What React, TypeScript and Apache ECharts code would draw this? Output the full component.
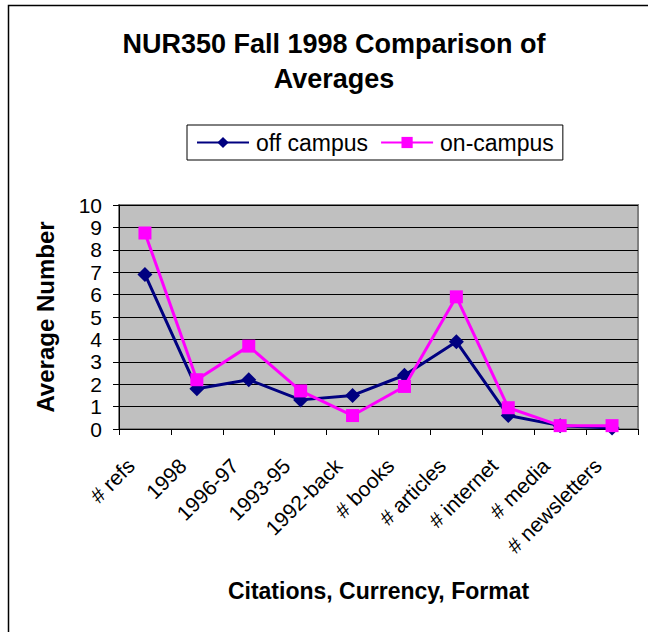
import React, { useEffect, useRef } from "react";
import * as echarts from "echarts";

const categories = [
  "# refs",
  "1998",
  "1996-97",
  "1993-95",
  "1992-back",
  "# books",
  "# articles",
  "# internet",
  "# media",
  "# newsletters",
];
const offCampus = [6.9, 1.8, 2.2, 1.3, 1.5, 2.4, 3.9, 0.6, 0.15, 0.05];
const onCampus = [8.75, 2.2, 3.7, 1.7, 0.6, 1.9, 5.9, 0.95, 0.15, 0.15];
const yTicks = { min: 0, max: 10, interval: 1 };

const FONT = "Liberation Sans, Arial, sans-serif";

export default function App() {
  const ref = useRef<HTMLDivElement>(null);
  useEffect(() => {
    document.body.style.margin = "0";
    const chart = echarts.init(ref.current!, null, { renderer: "svg" });
    chart.setOption({
      animation: false,
      backgroundColor: "#ffffff",
      textStyle: { fontFamily: FONT },
      graphic: [
        {
          type: "rect",
          shape: { x: 8.5, y: 5.5, width: 700, height: 700 },
          style: { fill: "none", stroke: "#000", lineWidth: 1.5 },
          silent: true,
          z: -10,
        },
        {
          type: "text",
          x: 334,
          y: 26,
          style: {
            text: "NUR350 Fall 1998 Comparison of\nAverages",
            align: "center",
            verticalAlign: "top",
            font: `bold 27px ${FONT}`,
            lineHeight: 35,
            fill: "#000",
          },
        },
      ],
      legend: {
        left: 187,
        top: 125,
        padding: [4, 9, 4, 9],
        itemGap: 12,
        itemWidth: 52,
        itemHeight: 14,
        borderColor: "#000",
        borderWidth: 1,
        textStyle: { fontSize: 23, lineHeight: 27, color: "#000", fontFamily: FONT, padding: [0, 0, 0, 2] },
        data: ["off campus", "on-campus"],
      },
      grid: {
        left: 119,
        right: 10,
        top: 205,
        bottom: 203,
        show: true,
        backgroundColor: "#c0c0c0",
        borderColor: "#808080",
        borderWidth: 2,
        containLabel: false,
      },
      xAxis: {
        type: "category",
        data: categories,
        boundaryGap: true,
        name: "Citations, Currency, Format",
        nameLocation: "middle",
        nameGap: 150,
        nameTextStyle: { fontSize: 23, fontWeight: "bold", color: "#000", fontFamily: FONT, verticalAlign: "top" },
        axisLine: { lineStyle: { color: "#000", width: 1 } },
        axisTick: { show: true, inside: false, length: 6, alignWithLabel: false, lineStyle: { color: "#000" } },
        axisLabel: {
          rotate: 45,
          fontSize: 21,
          color: "#000",
          margin: 19,
          padding: [0, 20, 0, 0],
          interval: 0,
          fontFamily: FONT,
        },
        splitLine: { show: false },
      },
      yAxis: {
        type: "value",
        min: yTicks.min,
        max: yTicks.max,
        interval: yTicks.interval,
        name: "Average Number",
        nameLocation: "middle",
        nameGap: 62,
        nameRotate: 90,
        nameTextStyle: { fontSize: 24, fontWeight: "bold", color: "#000", fontFamily: FONT },
        axisLine: { show: true, lineStyle: { color: "#000", width: 1 } },
        axisTick: { show: true, inside: false, length: 6, lineStyle: { color: "#000" } },
        axisLabel: { fontSize: 21, color: "#000", margin: 17, fontFamily: FONT },
        splitLine: { show: true, lineStyle: { color: "#000", width: 1 } },
      },
      series: [
        {
          name: "off campus",
          type: "line",
          data: offCampus,
          symbol: "diamond",
          symbolSize: 15,
          lineStyle: { color: "#000080", width: 3 },
          itemStyle: { color: "#000080" },
          z: 2,
        },
        {
          name: "on-campus",
          type: "line",
          data: onCampus,
          symbol: "rect",
          symbolSize: 13,
          lineStyle: { color: "#ff00ff", width: 3 },
          itemStyle: { color: "#ff00ff" },
          z: 3,
        },
      ],
    });
    return () => chart.dispose();
  }, []);
  return (
    <div
      ref={ref}
      style={{ position: "absolute", left: 0, top: 0, width: 648, height: 632 }}
    />
  );
}
